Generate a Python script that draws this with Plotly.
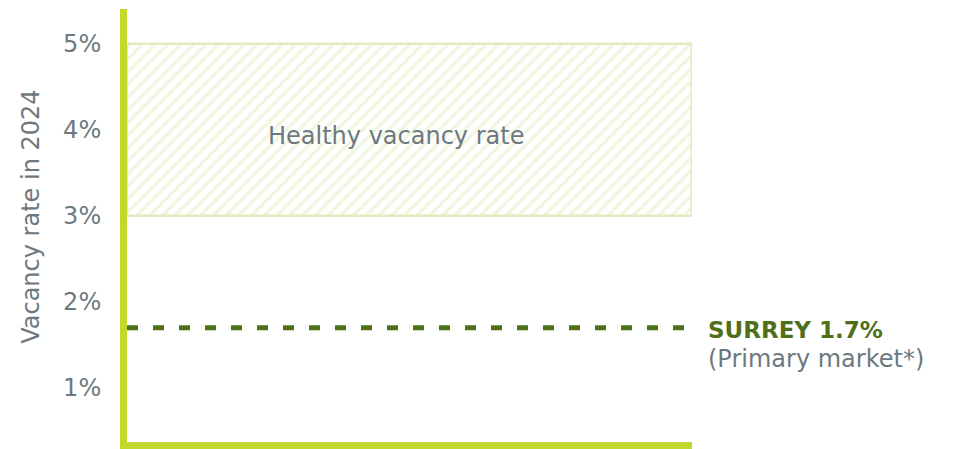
import plotly.graph_objects as go

# Healthy vacancy band (percent) and Surrey's 2024 vacancy rate
healthy_low = 3.0
healthy_high = 5.0
surrey_rate = 1.7
tick_values = [1, 2, 3, 4, 5]
tick_labels = ["1%", "2%", "3%", "4%", "5%"]

LIME = "#c3d82c"
HATCH = "#e2ebbd"
OLIVE = "#4d7019"
GREY = "#6c7980"
FONT = "DejaVu Sans"
SIZE = 24

fig = go.Figure()

# Hatched band for the healthy range
fig.add_trace(go.Bar(
    x=[0.5], y=[healthy_high - healthy_low], base=[healthy_low], width=[1.0],
    marker=dict(
        color="white",
        line=dict(color=HATCH, width=2.5),
        pattern=dict(shape="/", fgcolor=HATCH, bgcolor="white", size=9, solidity=0.35),
    ),
    hoverinfo="skip", showlegend=False,
))

# Surrey's rate as a dashed reference line
fig.add_trace(go.Scatter(
    x=[0, 1], y=[surrey_rate, surrey_rate], mode="lines",
    line=dict(color=OLIVE, width=5, dash="11px,15px"),
    hoverinfo="skip", showlegend=False,
))

fig.add_annotation(
    x=0.5, y=3.93, xref="x", yref="y", text="Healthy vacancy rate", showarrow=False,
    font=dict(family=FONT, size=SIZE, color=GREY), xshift=-14,
)
fig.add_annotation(
    x=1.025, y=surrey_rate, xref="paper", yref="y", xanchor="left", yanchor="middle",
    text="<b>SURREY %.1f%%</b>" % surrey_rate, showarrow=False, yshift=-2,
    font=dict(family=FONT, size=23, color=OLIVE),
)
fig.add_annotation(
    x=1.025, y=surrey_rate, xref="paper", yref="y", xanchor="left", yanchor="middle",
    text="(Primary market*)", showarrow=False, yshift=-31,
    font=dict(family=FONT, size=SIZE, color=GREY),
)

# Vertical axis title, placed as a rotated annotation
fig.add_annotation(
    x=-0.17, y=0.52, xref="paper", yref="paper", xanchor="center", yanchor="middle",
    text="Vacancy rate in 2024", textangle=-90, showarrow=False,
    font=dict(family=FONT, size=SIZE, color=GREY),
)

fig.update_layout(
    width=954, height=449,
    margin=dict(l=127, r=262, t=9, b=7),
    paper_bgcolor="white", plot_bgcolor="white",
    font=dict(family=FONT, size=SIZE, color=GREY),
    bargap=0,
)
fig.update_xaxes(range=[0, 1], showgrid=False, zeroline=False, showticklabels=False,
                 showline=True, linecolor=LIME, linewidth=7, ticks="")
fig.update_yaxes(range=[0.372, 5.407], tickvals=tick_values, ticktext=tick_labels,
                 showgrid=False, zeroline=False, showline=True, linecolor=LIME, linewidth=7,
                 ticks="", ticklabelstandoff=14)

fig.write_html("out.html")
